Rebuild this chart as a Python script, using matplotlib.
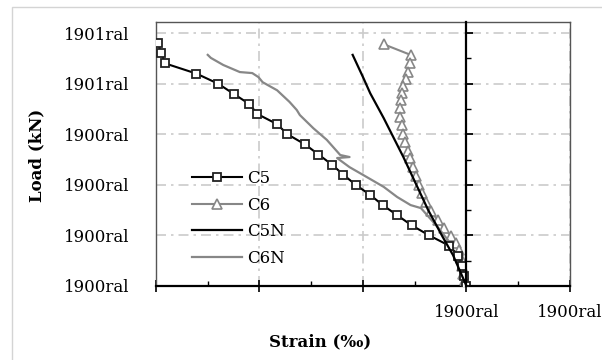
import numpy as np
import matplotlib
matplotlib.use("Agg")
import matplotlib.pyplot as plt
from matplotlib.patches import Rectangle
from matplotlib.ticker import MultipleLocator

plt.rcParams['font.family'] = ['DejaVu Serif']

# C5 : load steps with squares
c5_load = [4.8, 4.6, 4.4, 4.2, 4.0, 3.8, 3.6, 3.4, 3.2, 3.0, 2.8, 2.6, 2.4,
           2.2, 2.0, 1.8, 1.6, 1.4, 1.2, 1.0, 0.8, 0.6, 0.4, 0.2, 0.0]
c5_strain = [-2.98, -2.95, -2.91, -2.61, -2.40, -2.25, -2.10, -2.02, -1.83, -1.73,
             -1.56, -1.43, -1.30, -1.19, -1.07, -0.93, -0.81, -0.67, -0.53, -0.36,
             -0.17, -0.08, -0.04, -0.02, 0.0]

# C6 : triangles
c6_load = [4.78, 4.57, 4.41, 4.23, 4.09, 3.95, 3.81, 3.68, 3.52, 3.34, 3.18, 3.00,
           2.85, 2.67, 2.53, 2.35, 2.17, 2.00, 1.84, 1.66, 1.48, 1.30, 1.15, 0.99,
           0.85, 0.71, 0.55, 0.40, 0.24, 0.12, 0.0]
c6_strain = [-0.80, -0.54, -0.55, -0.57, -0.58, -0.61, -0.62, -0.63, -0.64, -0.64,
             -0.62, -0.61, -0.59, -0.57, -0.55, -0.52, -0.49, -0.46, -0.43, -0.39,
             -0.34, -0.28, -0.22, -0.15, -0.10, -0.07, -0.05, -0.04, -0.03, -0.01, 0.0]

# C5N : numerical
c5n_load = [4.57, 4.13, 3.81, 3.32, 2.55, 1.50, 0.97, 0.61, 0.0]
c5n_strain = [-1.10, -1.00, -0.93, -0.80, -0.61, -0.37, -0.23, -0.13, 0.0]

# C6N : numerical
c6n_load = [4.57, 4.51, 4.37, 4.23, 4.21, 4.13, 4.03, 3.87, 3.64, 3.48, 3.38, 3.12,
            2.89, 2.59, 2.55, 2.53, 2.35, 2.15, 1.96, 1.76, 1.60, 1.54, 1.40, 1.17,
            0.91, 0.57, 0.18, 0.02]
c6n_strain = [-2.50, -2.47, -2.35, -2.19, -2.07, -2.01, -1.97, -1.83, -1.71, -1.64,
              -1.61, -1.48, -1.35, -1.22, -1.13, -1.25, -1.13, -0.96, -0.80, -0.67,
              -0.54, -0.44, -0.38, -0.28, -0.18, -0.09, -0.03, 0.01]

y_ticks = [0, 1, 2, 3, 4, 5]
y_minor = [0.5, 1.5, 2.5, 3.5, 4.5]
y_labels = ["1900ral", "1900ral", "1900ral", "1900ral", "1901ral", "1901ral"]
x_ticks = [-3, -2, -1, 0, 1]
x_labels = ["", "", "", "1900ral", "1900ral"]

gray = '#878787'

fig = plt.figure(figsize=(6.02, 3.6), dpi=100)
fig.patches.append(Rectangle((12/602, -0.1), 1.2, 353/360 + 0.1, transform=fig.transFigure,
                             fill=False, edgecolor='#d4d4d4', lw=1.0, zorder=-5))
ax = fig.add_axes([156/602, 74/360, 414/602, 264/360])

ax.plot(c5_strain, c5_load, color='black', lw=1.5, marker='s', ms=5.5,
        mfc='white', mec='#222222', mew=1.3, label='C5', zorder=4)
ax.plot(c6_strain, c6_load, color=gray, lw=1.5, marker='^', ms=6.5,
        mfc='white', mec=gray, mew=1.2, label='C6', zorder=3)
ax.plot(c5n_strain, c5n_load, color='black', lw=1.6, label='C5N', zorder=5)
ax.plot(c6n_strain, c6n_load, color=gray, lw=1.6, label='C6N', zorder=3)

ax.set_xlim(-3, 1)
ax.set_ylim(0, 5.22)

ax.grid(True, which='major', color='#cbcbcb', lw=1.2, dashes=(6, 3, 1.5, 3))
ax.set_axisbelow(True)

# vertical axis crossing at strain = 0, with its tick marks
ax.plot([0, 0], [0, 5.22], color='black', lw=1.6, zorder=6, clip_on=False)
ax.plot([0] * len(y_ticks), y_ticks, ls='none', marker=1, ms=5, mew=1.3,
        color='black', clip_on=False, zorder=6)
ax.plot([0] * len(y_minor), y_minor, ls='none', marker=1, ms=3.5, mew=1.0,
        color='black', clip_on=False, zorder=6)

for s in ['left', 'top', 'right']:
    ax.spines[s].set_color('#555555')
    ax.spines[s].set_linewidth(1.0)
ax.spines['bottom'].set_color('black')
ax.spines['bottom'].set_linewidth(1.6)

ax.set_xticks(x_ticks)
ax.set_xticklabels(x_labels)
ax.xaxis.set_minor_locator(MultipleLocator(0.5))
ax.tick_params(axis='x', which='major', direction='inout', length=8, width=1.2,
               pad=9, labelsize=12)
ax.tick_params(axis='x', which='minor', direction='in', length=3.5, width=1.0)

ax.set_yticks(y_ticks)
ax.set_yticklabels(y_labels)
ax.tick_params(axis='y', which='both', length=0)
ax.tick_params(axis='y', which='major', pad=19, labelsize=12)

ax.set_xlabel('Strain (‰)', fontsize=12, fontweight='bold')
ax.xaxis.set_label_coords(0.396, -0.18)
ax.set_ylabel('Load (kN)', fontsize=12, fontweight='bold')
ax.yaxis.set_label_coords(-0.268, 0.496)

ax.legend(loc='upper left', bbox_to_anchor=(0.087, 0.44), frameon=False,
          fontsize=12, handlelength=3.0, handletextpad=0.3, labelspacing=0.58,
          borderpad=0, borderaxespad=0)

fig.savefig('out.png', dpi=100)
